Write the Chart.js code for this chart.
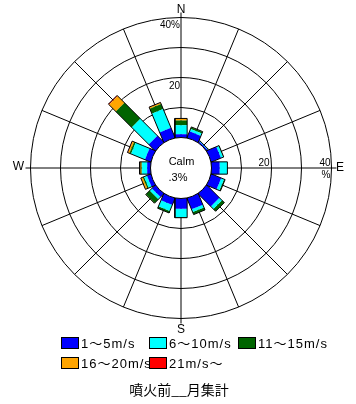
<!DOCTYPE html>
<html><head><meta charset="utf-8">
<script src="https://cdn.jsdelivr.net/npm/chart.js@4.4.1/dist/chart.umd.min.js"></script>
<style>
html,body{margin:0;padding:0;background:#fff;}
#wrap{position:relative;width:356px;height:404px;overflow:hidden;}
#c{position:absolute;left:0;top:0;}
.lg{position:absolute;font:13px "Liberation Sans","Noto Sans CJK JP",sans-serif;letter-spacing:1px;color:#000;white-space:nowrap;line-height:13px;}
.bx{position:absolute;width:16px;height:10px;border:1px solid #000;}
#title{position:absolute;left:0;width:358px;top:382px;text-align:center;font:14px "Noto Sans CJK JP",sans-serif;line-height:15px;color:#000;}
</style></head>
<body><div id="wrap"><canvas id="c" width="356" height="404"></canvas>
<div class="bx" style="left:61px;top:337px;background:#0000ff"></div><div class="lg" style="left:81px;top:337px">1～5m/s</div>
<div class="bx" style="left:149px;top:337px;background:#00ffff"></div><div class="lg" style="left:169px;top:337px">6～10m/s</div>
<div class="bx" style="left:238px;top:337px;background:#006400"></div><div class="lg" style="left:258px;top:337px">11～15m/s</div>
<div class="bx" style="left:61px;top:357px;background:#ffa500"></div><div class="lg" style="left:81px;top:357px">16～20m/s</div>
<div class="bx" style="left:149px;top:357px;background:#ff0000"></div><div class="lg" style="left:169px;top:357px">21m/s～</div>
<div id="title">噴火前__月集計</div>
</div>
<script>
// Data (percent frequency by direction and wind-speed class)
const directions = ['N','NNE','NE','ENE','E','ESE','SE','SSE','S','SSW','SW','WSW','W','WNW','NW','NNW'];
const speed1to5   = [1.1, 2.2, 0.4, 3.4, 2.7, 3.5, 5.9, 3.9, 3.4, 2.3, 1.5, 1.3, 1.1, 2.0, 3.0, 3.5];
const speed6to10  = [3.0, 0.9, 0.3, 0.8, 2.5, 1.0, 1.2, 1.0, 2.8, 2.2, 1.0, 1.0, 1.7, 5.0, 8.0, 6.8];
const speed11to15 = [1.6, 0.6, 0.0, 0.2, 0.1, 0.4, 1.1, 0.9, 0.2, 0.7, 1.8, 0.5, 0.2, 0.6, 7.5, 1.8];
const speed16to20 = [0.6, 0.1, 0.0, 0.0, 0.0, 0.0, 0.0, 0.0, 0.0, 0.0, 0.1, 0.6, 0.5, 0.5, 3.2, 0.4];
const speed21up   = [0.05,0.0, 0.0, 0.0, 0.0, 0.0, 0.0, 0.0, 0.0, 0.0, 0.0, 0.1, 0.1, 0.2, 0.3, 0.15];
const calmPercent = '.3%';
const ringTicks = [10, 20, 30, 40];
const seriesNames = ['1～5m/s','6～10m/s','11～15m/s','16～20m/s','21m/s～'];
const seriesColors = ['#0000ff','#00ffff','#006400','#ffa500','#ff0000'];

const series = [speed1to5, speed6to10, speed11to15, speed16to20, speed21up];
const PX = 3;               // px per percent unit
const U0 = 30.5 / PX;       // calm circle radius (in units)
const HALF = 2.05;          // half bar width (units)

function rectPts(theta, ua, ub) {
  const s = Math.sin(theta), c = Math.cos(theta);
  const qx = c, qy = -s;
  const p = [
    {x: ua*s + HALF*qx, y: ua*c + HALF*qy},
    {x: ub*s + HALF*qx, y: ub*c + HALF*qy},
    {x: ub*s - HALF*qx, y: ub*c - HALF*qy},
    {x: ua*s - HALF*qx, y: ua*c - HALF*qy}
  ];
  p.push({x: p[0].x, y: p[0].y});
  return p;
}

const datasets = [];
directions.forEach((d, i) => {
  const theta = i * Math.PI / 8;
  let cum = 0;
  const start = U0 - 0.3;
  series.forEach((arr, k) => {
    const v = arr[i];
    if (v > 0) {
      const a = cum === 0 ? start : U0 + cum;
      datasets.push({label: seriesNames[k] + ' ' + d, data: rectPts(theta, a, U0 + cum + v),
        showLine: true, fill: 'shape', backgroundColor: seriesColors[k], borderWidth: 0,
        pointRadius: 0, order: 2});
    }
    cum += v;
  });
  datasets.push({label: 'outline ' + d, data: rectPts(theta, start, U0 + cum), showLine: true,
    fill: false, borderColor: '#000', borderWidth: 1, pointRadius: 0, order: 1});
});

const gridPlugin = {
  id: 'roseGrid',
  beforeDatasetsDraw(chart) {
    const {ctx, scales: {x, y}} = chart;
    const cx = x.getPixelForValue(0), cy = y.getPixelForValue(0);
    const rp = v => x.getPixelForValue(U0 + v) - cx;
    ctx.save();
    ctx.strokeStyle = '#000'; ctx.lineWidth = 1;
    ringTicks.forEach(t => { ctx.beginPath(); ctx.arc(cx, cy, rp(t), 0, Math.PI*2); ctx.stroke(); });
    for (let i = 0; i < 16; i++) {
      const th = i * Math.PI / 8;
      const r1 = rp(0), r2 = rp(40) + (i % 4 === 0 ? 5 : 0);
      ctx.beginPath();
      ctx.moveTo(cx + r1*Math.sin(th), cy - r1*Math.cos(th));
      ctx.lineTo(cx + r2*Math.sin(th), cy - r2*Math.cos(th));
      ctx.stroke();
    }
    ctx.restore();
  },
  afterDatasetsDraw(chart) {
    const {ctx, scales: {x, y}} = chart;
    const cx = x.getPixelForValue(0), cy = y.getPixelForValue(0);
    const r0 = x.getPixelForValue(U0) - cx;
    ctx.save();
    ctx.fillStyle = '#fff'; ctx.strokeStyle = '#000'; ctx.lineWidth = 1;
    ctx.beginPath(); ctx.arc(cx, cy, r0, 0, Math.PI*2); ctx.fill(); ctx.stroke();
    ctx.fillStyle = '#000';
    ctx.textAlign = 'center'; ctx.textBaseline = 'middle';
    ctx.font = '11px "Liberation Sans", sans-serif';
    ctx.fillText('Calm', cx + 0.5, cy - 6);
    ctx.fillText(calmPercent, cx - 3, cy + 10);
    // compass labels
    ctx.font = '12px "Liberation Sans", sans-serif';
    ctx.fillText('N', cx, 9.5);
    ctx.fillText('E', 340, cy);
    ctx.fillText('W', 18.5, cy - 1);
    ctx.fillText('S', cx, 330);
    // scale labels
    ctx.font = '10px "Liberation Sans", sans-serif';
    ctx.textAlign = 'right';
    const r20 = x.getPixelForValue(U0 + 20) - cx, r40 = x.getPixelForValue(U0 + 40) - cx;
    ctx.fillText('40%', cx - 1, cy - r40 + 8);
    ctx.fillText('20', cx - 1, cy - r20 + 9);
    ctx.fillText('20', cx + r20 - 2, cy - 4.5);
    ctx.fillText('40', cx + r40 - 1, cy - 4.5);
    ctx.textAlign = 'center';
    ctx.fillText('%', cx + r40 - 5.5, cy + 7.5);
    ctx.restore();
  }
};

new Chart(document.getElementById('c'), {
  type: 'scatter',
  data: { datasets },
  options: {
    responsive: false,
    animation: false,
    layout: { padding: 0 },
    scales: {
      x: { type: 'linear', min: -181/PX, max: 175/PX, display: false },
      y: { type: 'linear', min: -(404-168)/PX, max: 168/PX, display: false }
    },
    plugins: { legend: { display: false }, tooltip: { enabled: false } },
    elements: { line: { tension: 0 } }
  },
  plugins: [gridPlugin]
});
</script>
</body></html>
